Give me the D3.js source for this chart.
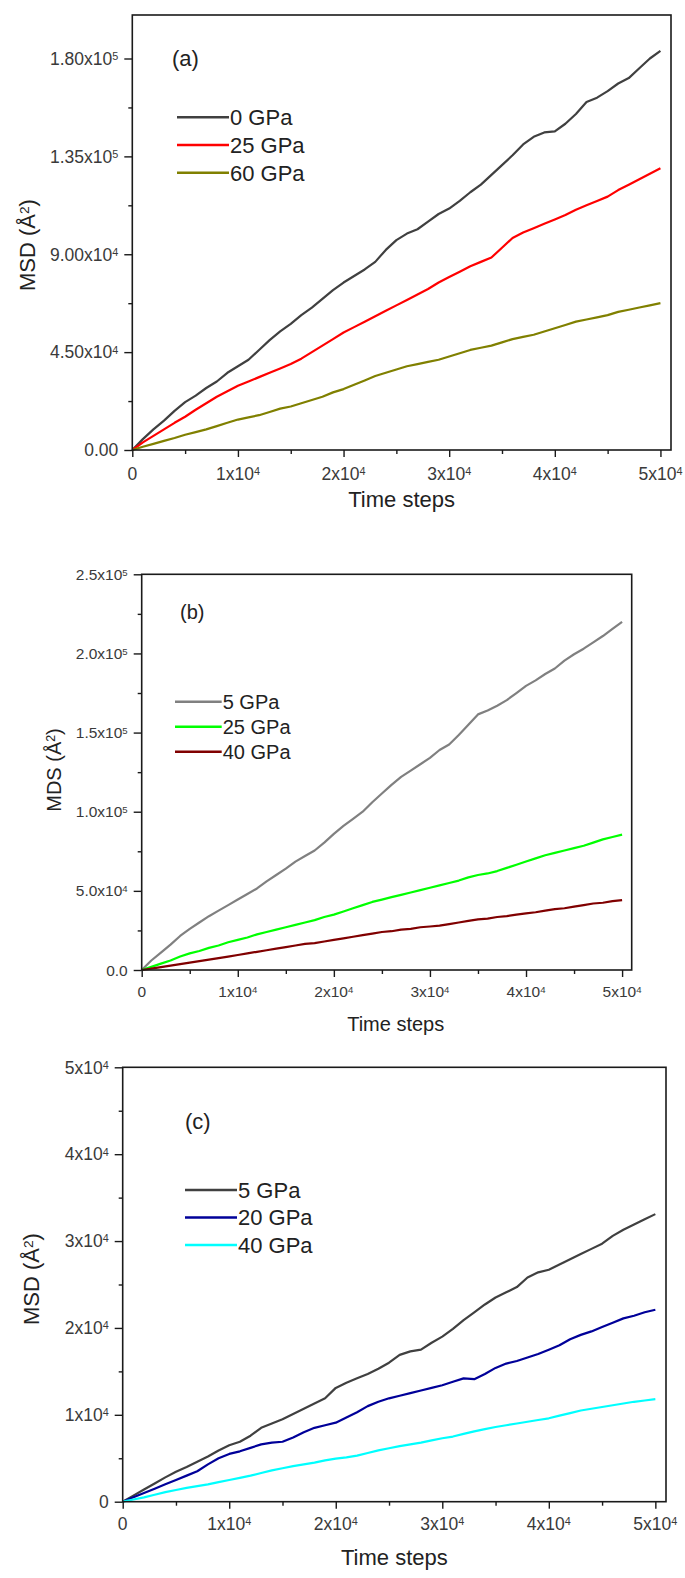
<!DOCTYPE html>
<html><head><meta charset="utf-8">
<script src="https://cdn.jsdelivr.net/npm/d3@7"></script>
<style>body{margin:0;background:#fff}svg{display:block}</style>
</head><body><svg id="chart" width="685" height="1578"></svg>
<script>
// ---------- shared x categories ----------
const steps = [0,1000,2000,3000,4000,5000,6000,7000,8000,9000,10000,11000,12000,13000,14000,15000,16000,17000,18000,19000,20000,21000,22000,23000,24000,25000,26000,27000,28000,29000,30000,31000,32000,33000,34000,35000,36000,37000,38000,39000,40000,41000,42000,43000,44000,45000,46000,47000,48000,49000,50000];

// ---------- panel (a) ----------
const seriesNamesA = ["0 GPa","25 GPa","60 GPa"];
const a0GPa = [0,5000,9500,13500,18000,22000,25000,28500,31500,35500,38500,41500,46000,50500,54500,58000,62000,65500,69500,73500,77000,80000,83000,86500,92000,96500,99500,101500,105000,108500,111000,114500,118500,122000,126500,131000,135500,140500,144000,146000,146500,150000,154500,160000,162000,165000,168500,171000,175500,180000,183500];
const a25GPa = [0,3500,6500,9500,12500,15300,18500,21500,24500,27000,29500,31500,33500,35500,37500,39500,42000,45000,48000,51000,54000,56500,59000,61500,64000,66500,69000,71500,74000,77000,79500,82000,84500,86500,88500,93000,97500,100000,102000,104000,106000,108000,110500,112500,114500,116500,119500,122000,124500,127000,129500];
const a60GPa = [0,1500,2800,4200,5500,7000,8200,9500,11000,12500,14000,15000,16000,17500,19000,20000,21500,23000,24500,26500,28000,30000,32000,34000,35500,37000,38500,39500,40500,41500,43000,44500,46000,47000,48000,49500,51000,52000,53000,54500,56000,57500,59000,60000,61000,62000,63500,64500,65500,66500,67500];
const yTicksA = [0,45000,90000,135000,180000];
const yTickLabelsA = ["0.00","4.50x10^4","9.00x10^4","1.35x10^5","1.80x10^5"];

// ---------- panel (b) ----------
const seriesNamesB = ["5 GPa","25 GPa","40 GPa"];
const b5GPa = [0,6000,11000,16000,21500,26000,30000,34000,37500,41000,44500,48000,51500,56000,60000,64000,68500,72000,75500,80500,86000,91000,95500,100000,106000,111500,117000,122000,126000,130000,134000,139000,142500,148500,155000,161500,164000,167000,170500,175000,179500,183000,187000,190500,195500,199500,203000,207000,211000,215500,220000];
const b25GPa = [0,2000,4000,6000,8500,10500,12000,14000,15500,17500,19000,20500,22500,24000,25500,27000,28500,30000,31500,33500,35000,37000,39000,41000,43000,44500,46000,47500,49000,50500,52000,53500,55000,56500,58500,60000,61000,62500,64500,66500,68500,70500,72500,74000,75500,77000,78500,80500,82500,84000,85500];
const b40GPa = [0,900,1800,2800,3700,4700,5600,6500,7500,8500,9500,10500,11500,12500,13500,14500,15500,16500,17000,18000,19000,20000,21000,22000,23000,24000,24500,25500,26000,27000,27500,28000,29000,30000,31000,32000,32500,33500,34000,35000,35800,36500,37500,38500,39000,40000,41000,42000,42500,43500,44200];
const yTicksB = [0,50000,100000,150000,200000,250000];
const yTickLabelsB = ["0.0","5.0x10^4","1.0x10^5","1.5x10^5","2.0x10^5","2.5x10^5"];

// ---------- panel (c) ----------
const seriesNamesC = ["5 GPa","20 GPa","40 GPa"];
const c5GPa = [0,700,1400,2100,2800,3450,4000,4600,5200,5900,6500,6900,7600,8500,9000,9500,10100,10700,11300,11900,13100,13700,14200,14700,15300,16000,16900,17300,17500,18300,19000,19900,20900,21800,22700,23500,24100,24700,25800,26400,26700,27300,27900,28500,29100,29700,30600,31300,31900,32500,33100];
const c20GPa = [0,500,1000,1500,2000,2500,3000,3500,4300,5000,5500,5800,6200,6600,6800,6900,7400,8000,8500,8800,9100,9700,10300,11000,11500,11900,12200,12500,12800,13100,13400,13800,14200,14100,14700,15400,15900,16200,16600,17000,17500,18000,18700,19200,19600,20100,20600,21100,21400,21800,22100];
const c40GPa = [0,250,500,800,1100,1350,1600,1800,2000,2250,2500,2750,3000,3300,3600,3850,4100,4300,4500,4750,4950,5100,5300,5600,5900,6150,6400,6600,6800,7050,7300,7500,7800,8100,8350,8600,8800,9000,9200,9400,9600,9900,10200,10500,10700,10900,11100,11300,11500,11650,11800];
const yTicksC = [0,10000,20000,30000,40000,50000];
const yTickLabelsC = ["0","1x10^4","2x10^4","3x10^4","4x10^4","5x10^4"];

// ---------- shared x ticks ----------
const xTicks = [0,10000,20000,30000,40000,50000];
const xTickLabels = ["0","1x10^4","2x10^4","3x10^4","4x10^4","5x10^4"];
const xTitle = "Time steps";

const FONT = "'Liberation Sans', Arial, Helvetica, sans-serif";
const svg = d3.select("#chart");

function setLabel(sel, label) {
  const parts = label.split("^");
  sel.text(parts[0]);
  if (parts[1]) {
    sel.append("tspan").attr("dy", "-0.45em").attr("font-size", "0.62em").text(parts[1]);
  }
}

function midpoints(arr) {
  const out = [];
  for (let i = 0; i < arr.length - 1; i++) out.push((arr[i] + arr[i + 1]) / 2);
  return out;
}

function drawPanel(cfg) {
  const x = d3.scaleLinear().domain([0, 51000]).range([cfg.left, cfg.right]);
  const y = d3.scaleLinear().domain(cfg.yDomain).range([cfg.bottom, cfg.top]);
  const g = svg.append("g");

  // series lines
  const line = d3.line().x((d, i) => x(steps[i])).y(d => y(d));
  cfg.series.forEach((s, k) => {
    g.append("path").datum(s).attr("fill", "none")
      .attr("stroke", cfg.colors[k]).attr("stroke-width", 2.2)
      .attr("stroke-linejoin", "round").attr("d", line);
  });

  // frame
  g.append("rect").attr("x", cfg.left).attr("y", cfg.top)
    .attr("width", cfg.right - cfg.left).attr("height", cfg.bottom - cfg.top)
    .attr("fill", "none").attr("stroke", "#1a1a1a").attr("stroke-width", 1.6);

  const xAx = g.append("g").attr("transform", `translate(0,${cfg.bottom})`)
    .call(d3.axisBottom(x).tickValues(xTicks).tickSize(7).tickFormat(""));
  const xAxMin = g.append("g").attr("transform", `translate(0,${cfg.bottom})`)
    .call(d3.axisBottom(x).tickValues(midpoints(xTicks)).tickSize(4).tickFormat(""));
  const yAx = g.append("g").attr("transform", `translate(${cfg.left},0)`)
    .call(d3.axisLeft(y).tickValues(cfg.yTicks).tickSize(8).tickFormat(""));
  const yAxMin = g.append("g").attr("transform", `translate(${cfg.left},0)`)
    .call(d3.axisLeft(y).tickValues(midpoints(cfg.yTicks)).tickSize(4).tickFormat(""));
  [xAx, xAxMin, yAx, yAxMin].forEach(a => {
    a.select(".domain").remove();
    a.selectAll(".tick line").attr("stroke", "#1a1a1a").attr("stroke-width", 1.4);
  });

  xTicks.forEach((v, i) => {
    const t = g.append("text").attr("x", x(v)).attr("y", cfg.bottom + cfg.xLabelOff)
      .attr("text-anchor", "middle").attr("font-family", FONT)
      .attr("font-size", cfg.tickFont).attr("fill", "#3a3a3a");
    setLabel(t, xTickLabels[i]);
  });
  cfg.yTicks.forEach((v, i) => {
    const t = g.append("text").attr("x", cfg.left - 14).attr("y", y(v))
      .attr("dy", "0.36em").attr("text-anchor", "end").attr("font-family", FONT)
      .attr("font-size", cfg.tickFont).attr("fill", "#3a3a3a");
    setLabel(t, cfg.yTickLabels[i]);
  });

  g.append("text").attr("x", (cfg.left + cfg.right) / 2 + cfg.xTitleShift).attr("y", cfg.xTitleY)
    .attr("text-anchor", "middle").attr("font-family", FONT)
    .attr("font-size", cfg.titleFont).attr("fill", "#222").text(xTitle);
  const yt = g.append("text")
    .attr("transform", `translate(${cfg.yTitleX},${cfg.yTitleY}) rotate(-90)`)
    .attr("text-anchor", "middle").attr("font-family", FONT)
    .attr("font-size", cfg.titleFont).attr("fill", "#222");
  yt.append("tspan").text(cfg.yTitle + " (Å");
  yt.append("tspan").attr("dy", "-0.45em").attr("font-size", "0.62em").text("2");
  yt.append("tspan").attr("dy", "0.28em").text(")");

  g.append("text").attr("x", cfg.tagX).attr("y", cfg.tagY)
    .attr("font-family", FONT).attr("font-size", cfg.legFont).attr("fill", "#222").text(cfg.tag);

  cfg.names.forEach((n, k) => {
    const ly = cfg.legY + k * cfg.legStep;
    g.append("line").attr("x1", cfg.legX1).attr("x2", cfg.legX2)
      .attr("y1", ly).attr("y2", ly).attr("stroke", cfg.colors[k]).attr("stroke-width", 2.5);
    g.append("text").attr("x", cfg.legX2 + 1).attr("y", ly).attr("dy", "0.36em")
      .attr("font-family", FONT).attr("font-size", cfg.legFont).attr("fill", "#222").text(n);
  });
}

drawPanel({
  left: 132.3, right: 671, top: 15, bottom: 450, yDomain: [0, 200000],
  series: [a0GPa, a25GPa, a60GPa], colors: ["#404040", "#ff0000", "#808000"], names: seriesNamesA,
  yTicks: yTicksA, yTickLabels: yTickLabelsA, tickFont: 17.5, xLabelOff: 30,
  titleFont: 22, xTitleY: 507, xTitleShift: 0, yTitleX: 35, yTitleY: 245, yTitle: "MSD",
  tag: "(a)", tagX: 172, tagY: 66, legFont: 22,
  legX1: 177, legX2: 229, legY: 117.3, legStep: 27.7
});
drawPanel({
  left: 141.7, right: 631.7, top: 574.3, bottom: 970, yDomain: [0, 250000],
  series: [b5GPa, b25GPa, b40GPa], colors: ["#808080", "#00ff00", "#800000"], names: seriesNamesB,
  yTicks: yTicksB, yTickLabels: yTickLabelsB, tickFont: 15.5, xLabelOff: 27,
  titleFont: 20, xTitleY: 1031, xTitleShift: 9, yTitleX: 61, yTitleY: 770, yTitle: "MDS",
  tag: "(b)", tagX: 180, tagY: 619, legFont: 20,
  legX1: 175, legX2: 221.7, legY: 701.7, legStep: 25
});
drawPanel({
  left: 122.7, right: 666, top: 1067.3, bottom: 1501.7, yDomain: [0, 50000],
  series: [c5GPa, c20GPa, c40GPa], colors: ["#404040", "#000099", "#00ffff"], names: seriesNamesC,
  yTicks: yTicksC, yTickLabels: yTickLabelsC, tickFont: 17.5, xLabelOff: 28,
  titleFont: 22, xTitleY: 1565, xTitleShift: 0, yTitleX: 39, yTitleY: 1279, yTitle: "MSD",
  tag: "(c)", tagX: 185, tagY: 1129, legFont: 22,
  legX1: 185, legX2: 237, legY: 1190, legStep: 27.5
});
</script>
</body></html>
